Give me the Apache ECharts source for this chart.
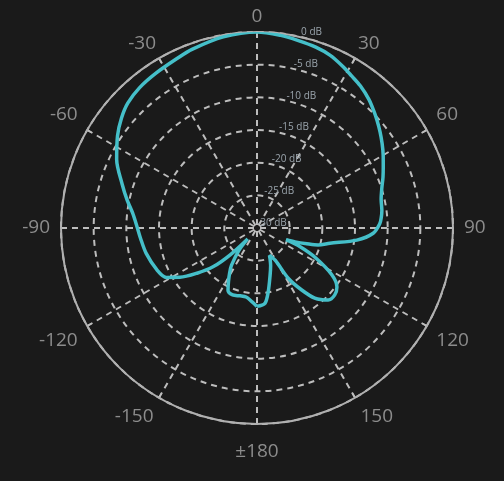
<!DOCTYPE html>
<html><head><meta charset="utf-8">
<script src="https://cdn.jsdelivr.net/npm/echarts@6/dist/echarts.min.js"></script>
<style>html,body{margin:0;padding:0;background:#1a1a1a}#c{width:504px;height:481px}</style>
</head><body><div id="c"></div>
<script>
// Angle in degrees (0 = front, clockwise), gain in dB
const angles = [-180,-176,-171,-166,-160,-155,-152,-148.5,-145.6,-141,-139.5,-135,-131.5,-127,-122.6,-118.6,-112.7,-102.9,-95,-89,-83,-78,-72,-64,-56.5,-51,-46,-40,-33,-25,-20,-10,0,7,12,18,23,28,32,36,41,45,48,52,56,60,64,68,72,77,82,85,88,92.6,96.9,101.8,105.5,107.5,110,112,113.5,117,122,126.4,130.7,135.3,140.5,144.2,148.1,150.5,155.5,157,160,164.5,170,174,180];
const gainDb = [-18.0,-18.7,-19.3,-19.3,-19.1,-19.5,-20.7,-22.0,-23.1,-25.6,-27.8,-24.2,-21.1,-18.5,-16.0,-14.2,-13.4,-12.6,-12.1,-11.6,-10.8,-9.7,-8.3,-6.1,-4.4,-3.3,-2.5,-2.0,-1.7,-1.3,-0.9,-0.3,0,-0.3,-0.6,-0.9,-1.3,-2.0,-2.6,-3.1,-3.9,-4.7,-5.3,-6.1,-6.9,-7.7,-8.5,-9.2,-9.9,-10.5,-10.7,-10.9,-11.2,-12.2,-14.6,-18.6,-20.3,-22.0,-23.8,-25.2,-22.8,-19.9,-16.5,-14.8,-14.3,-14.5,-16.1,-18.3,-20.9,-24.3,-25.4,-24.9,-23.9,-22.5,-20.1,-18.4,-18.0];
const angleMin = -180, angleMax = 180, angleStep = 30;
const dbMin = -30, dbMax = 0, dbStep = 5;

const C = [257, 228], R = 196;
const chart = echarts.init(document.getElementById('c'));
const gridColor = '#bdbdbd';
const labelBase = { color: '#8c8c8c', fontSize: 19, fontFamily: 'Open Sans' };
const fmt = v => (Math.abs(v) === 180) ? '±180' : String(v);
const hiddenAngle = (idx, extra) => Object.assign({
  polarIndex: idx, type: 'value', min: angleMin, max: angleMax, interval: angleStep,
  startAngle: 270, clockwise: true,
  axisLine: { show: false }, axisTick: { show: false }, splitLine: { show: false }
}, extra);
const hiddenRadius = idx => ({
  polarIndex: idx, type: 'value', min: dbMin, max: dbMax, interval: dbStep,
  axisLine: { show: false }, axisTick: { show: false }, axisLabel: { show: false }, splitLine: { show: false }
});
chart.setOption({
  backgroundColor: '#1a1a1a',
  animation: false,
  polar: [
    { center: C, radius: R },
    { center: C, radius: R },
    { center: C, radius: R },
    { center: C, radius: R }
  ],
  angleAxis: [
    {
      polarIndex: 0, type: 'value', min: angleMin, max: angleMax, interval: angleStep,
      startAngle: 270, clockwise: true,
      axisLine: { lineStyle: { color: '#b0b0b0', width: 2 } },
      axisTick: { show: true, inside: true, length: 5, lineStyle: { color: '#b0b0b0', width: 1.5 } },
      axisLabel: Object.assign({}, labelBase, {
        margin: 11,
        formatter: v => (Math.abs(v) >= 60 && Math.abs(v) <= 150) ? fmt(v) : ''
      }),
      splitLine: { show: true, lineStyle: { color: gridColor, width: 2, type: [6, 5] } }
    },
    {
      polarIndex: 1, type: 'value', min: 0, max: 360, startAngle: 77, clockwise: true,
      axisLine: { show: false }, axisTick: { show: false }, axisLabel: { show: false }, splitLine: { show: false }
    },
    hiddenAngle(2, { axisLabel: Object.assign({}, labelBase, { margin: 6, formatter: v => (Math.abs(v) <= 30) ? fmt(v) : '' }) }),
    hiddenAngle(3, { axisLabel: Object.assign({}, labelBase, { margin: 18, formatter: v => (Math.abs(v) === 180) ? fmt(v) : '' }) })
  ],
  radiusAxis: [
    {
      polarIndex: 0, type: 'value', min: dbMin, max: dbMax, interval: dbStep,
      axisLine: { show: false }, axisTick: { show: false }, axisLabel: { show: false },
      splitLine: { show: true, lineStyle: { color: gridColor, width: 2, type: [6, 5] } }
    },
    {
      polarIndex: 1, type: 'value', min: dbMin, max: dbMax, interval: dbStep,
      axisLine: { show: false }, axisTick: { show: false }, splitLine: { show: false },
      axisLabel: { margin: 0, align: 'left', verticalAlign: 'bottom', color: '#9aa4ac', fontSize: 10, fontFamily: 'Open Sans', formatter: '{value} dB' }
    },
    hiddenRadius(2),
    hiddenRadius(3)
  ],
  series: [{
    type: 'line', coordinateSystem: 'polar', polarIndex: 0,
    data: angles.map((a, i) => [gainDb[i], a]),
    showSymbol: false, smooth: 0.3, z: 10,
    lineStyle: { color: '#45bfc9', width: 3.5 }
  }]
});
</script></body></html>
